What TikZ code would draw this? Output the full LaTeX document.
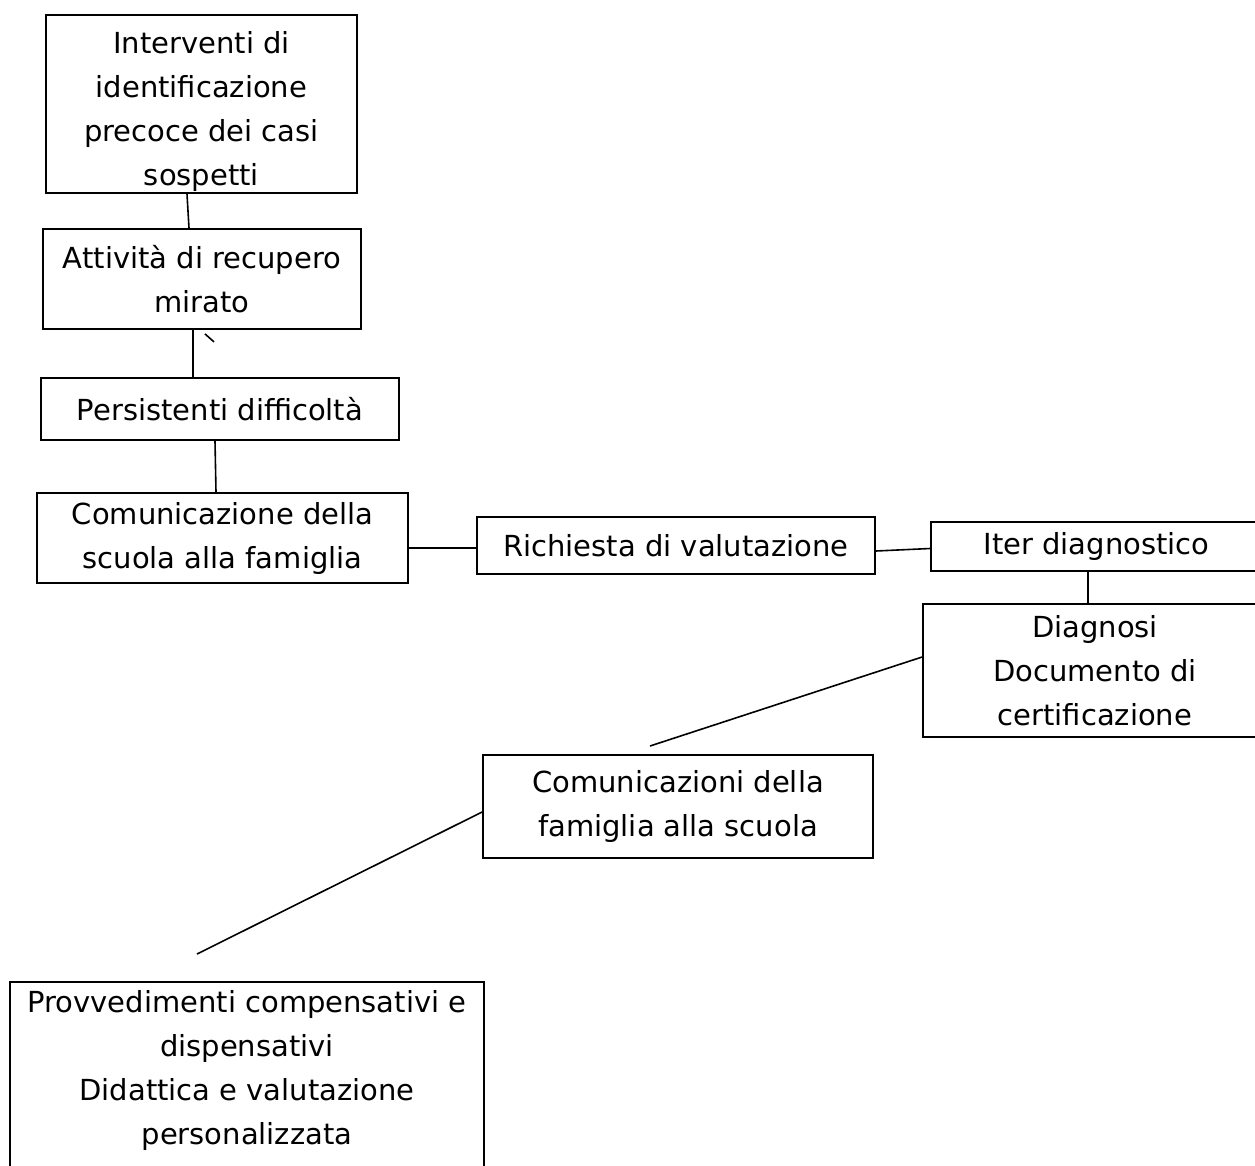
\documentclass[tikz,border=0pt]{standalone}
\usepackage{fontspec}
\setmainfont{DejaVu Sans}
\usetikzlibrary{calc}
\begin{document}
\begin{tikzpicture}[x=1pt,y=-1pt,
  box/.style={draw, line width=1.8pt, inner sep=0pt, align=center,
    font=\fontsize{29pt}{44pt}\selectfont},
  conn/.style={line width=1.6pt}]
\useasboundingbox (0,0) rectangle (1255,1165);
\clip (0,0) rectangle (1255,1165);
\node[box, minimum width=311pt, minimum height=178pt] (n1) at (201.5,104)
  {\rule{0pt}{38pt}Interventi di\\identificazione\\precoce dei casi\\sospetti};
\node[box, minimum width=318pt, minimum height=100pt] (n2) at (202,279)
  {Attività di recupero\\mirato};
\node[box, minimum width=358pt, minimum height=62pt] (n3) at (220,409)
  {Persistenti difficoltà};
\node[box, minimum width=371pt, minimum height=90pt] (n4) at (222.5,538)
  {Comunicazione della\\scuola alla famiglia};
\node[box, minimum width=398pt, minimum height=57pt] (n5) at (676,545.5)
  {Richiesta di valutazione};
\node[box, minimum width=331pt, minimum height=49pt] (n6) at (1096.5,546.5)
  {Iter diagnostico};
\node[box, minimum width=344pt, minimum height=133pt] (n7) at (1095,670.5)
  {Diagnosi\\Documento di\\certificazione};
\node[box, minimum width=390pt, minimum height=103pt] (n8) at (678,806.5)
  {Comunicazioni della\\famiglia alla scuola};
\node[box, minimum width=474pt, minimum height=220pt] (n9) at (247,1092)
  {Provvedimenti compensativi e\\dispensativi\\Didattica e valutazione\\personalizzata\rule[-50pt]{0pt}{0pt}};
\coordinate (f1) at (650,746);
\coordinate (f2) at (197,954);
\draw[conn] ($(n1.south)+(-14.5,0)$) -- ($(n2.north)+(-13,0)$);
\draw[conn] ($(n2.south)+(-9,0)$) -- ($(n3.north)+(-27,0)$);
\draw[conn] ($(n2.south)+(3,4)$) -- ($(n2.south)+(12,12)$);
\draw[conn] ($(n3.south)+(-5,0)$) -- ($(n4.north)+(-6.5,0)$);
\draw[conn] ($(n4.east)+(0,10)$) -- ($(n5.west)+(0,2.5)$);
\draw[conn] ($(n5.east)+(0,5.5)$) -- ($(n6.west)+(0,2)$);
\draw[conn] ($(n6.south)+(-8.5,0)$) -- ($(n7.north)+(-7,0)$);
\draw[conn] ($(n7.west)+(0,-13.5)$) -- (f1);
\draw[conn] ($(n8.west)+(0,5.5)$) -- (f2);
\end{tikzpicture}
\end{document}
